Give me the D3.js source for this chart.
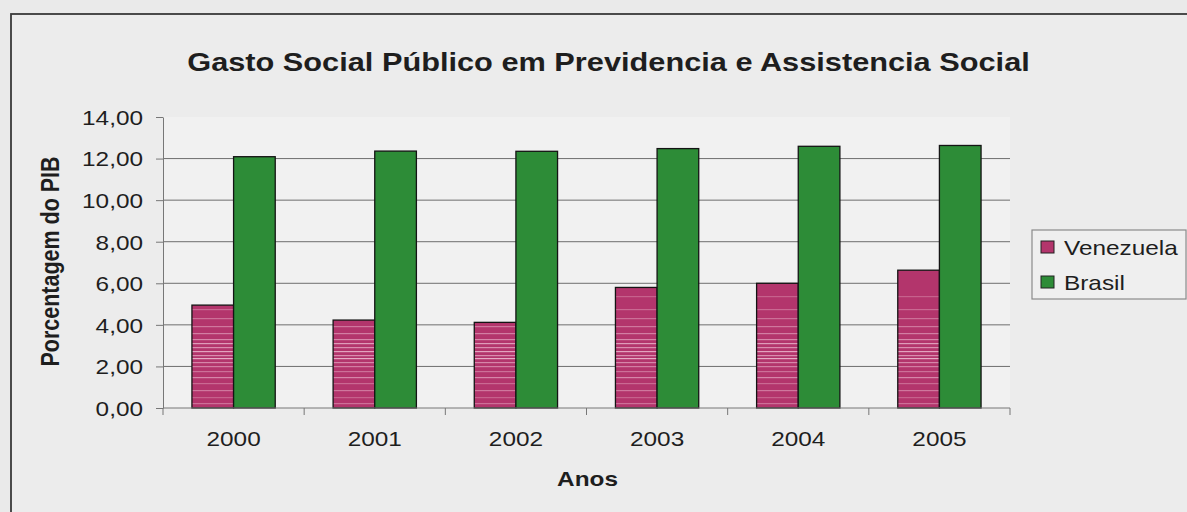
<!DOCTYPE html>
<html>
<head>
<meta charset="utf-8">
<script src="https://cdn.jsdelivr.net/npm/d3@7"></script>
<style>
  html, body { margin: 0; padding: 0; background: #eaeaea; }
  svg { display: block; }
  text { font-family: Arial, "Liberation Sans", sans-serif; fill: #1e1e1e; }
</style>
</head>
<body>
<svg id="chart" width="1187" height="512"></svg>
<script>
// Data
const years = ["2000", "2001", "2002", "2003", "2004", "2005"];
const seriesNames = ["Venezuela", "Brasil"];
const venezuela = [4.95, 4.23, 4.12, 5.80, 6.00, 6.63];
const brasil = [12.09, 12.36, 12.35, 12.48, 12.59, 12.63];
const yTicks = [0, 2, 4, 6, 8, 10, 12, 14];

const title = "Gasto Social Público em Previdencia e Assistencia Social";
const xTitle = "Anos";
const yTitle = "Porcentagem do PIB";

const rows = years.map((y, i) => ({ year: y, Venezuela: venezuela[i], Brasil: brasil[i] }));

// Layout
const W = 1187, H = 512;
const plot = { left: 163, right: 1010, top: 117, bottom: 408 };
const sx = 1.16; // horizontal text stretch
const fmt = v => v.toFixed(2).replace(".", ",");

const svg = d3.select("#chart");

// Streaked fill for the Venezuela bars: light horizontal streaks, denser toward the base
const defs = svg.append("defs");
const pat = defs.append("pattern")
  .attr("id", "venStripe")
  .attr("patternUnits", "userSpaceOnUse")
  .attr("width", 8).attr("height", 420);
pat.append("rect").attr("width", 8).attr("height", 420).attr("fill", "#b3356c");
[[296, 0.3], [309, 0.35], [318, 0.4], [326, 0.45], [333, 0.5], [339, 0.55], [343, 0.7],
 [347, 0.6], [351, 0.75], [355, 0.6], [358, 0.8], [362, 0.55], [366, 0.5], [371, 0.4],
 [377, 0.55], [383, 0.35], [390, 0.45], [397, 0.3], [403, 0.4]]
  .forEach(([yy, o]) => pat.append("rect").attr("x", 0).attr("y", yy).attr("width", 8).attr("height", 1.2)
    .attr("fill", "#f2c8da").attr("opacity", o));

const colors = { Venezuela: "url(#venStripe)", Brasil: "#2d8c37" };
const swatch = { Venezuela: "#b3356c", Brasil: "#2d8c37" };

// Outer frame
svg.append("rect").attr("x", 0).attr("y", 0).attr("width", W).attr("height", H).attr("fill", "#eaeaea");
svg.append("rect").attr("x", 11).attr("y", 14).attr("width", W + 20).attr("height", H + 20)
  .attr("fill", "#ececec").attr("stroke", "#3a3a3a").attr("stroke-width", 1.8);

// Plot background
svg.append("rect").attr("x", plot.left).attr("y", plot.top)
  .attr("width", plot.right - plot.left).attr("height", plot.bottom - plot.top)
  .attr("fill", "#f1f1f1");

// Scales
const x0 = d3.scaleBand().domain(years).range([plot.left, plot.right]).paddingInner(0).paddingOuter(0);
const x1 = d3.scaleBand().domain(seriesNames)
  .range([x0.bandwidth() * 0.205, x0.bandwidth() * 0.795]).padding(0);
const y = d3.scaleLinear().domain([0, 14]).range([plot.bottom, plot.top]);

// Gridlines
svg.append("g").selectAll("line")
  .data(yTicks.filter(t => t > 0 && t < 14))
  .join("line")
  .attr("x1", plot.left).attr("x2", plot.right)
  .attr("y1", d => y(d)).attr("y2", d => y(d))
  .attr("stroke", "#6e6e6e").attr("stroke-width", 1);

// Bars
const groups = svg.append("g").selectAll("g")
  .data(rows).join("g")
  .attr("transform", d => `translate(${x0(d.year)},0)`);
groups.selectAll("rect")
  .data(d => seriesNames.map(k => ({ key: k, value: d[k] })))
  .join("rect")
  .attr("x", d => x1(d.key))
  .attr("y", d => y(d.value))
  .attr("width", x1.bandwidth())
  .attr("height", d => y(0) - y(d.value))
  .attr("fill", d => colors[d.key])
  .attr("stroke", "#141414").attr("stroke-width", 1.3);

// Y axis
const yAxis = svg.append("g").attr("transform", `translate(${plot.left},0)`)
  .call(d3.axisLeft(y).tickValues(yTicks).tickSize(7).tickSizeOuter(0).tickFormat(fmt));
yAxis.select(".domain").attr("stroke", "#777");
yAxis.selectAll(".tick line").attr("stroke", "#777");
yAxis.selectAll(".tick text")
  .attr("x", 0).attr("dy", "0.35em")
  .attr("transform", `translate(-20,0) scale(${sx},1)`)
  .style("font-size", "21px").style("font-family", "Arial, 'Liberation Sans', sans-serif")
  .attr("fill", "#222").attr("text-anchor", "end");

// X axis
const xAxis = svg.append("g").attr("transform", `translate(0,${plot.bottom})`);
xAxis.append("line").attr("x1", plot.left).attr("x2", plot.right).attr("y1", 0).attr("y2", 0)
  .attr("stroke", "#777");
const bounds = years.map(d => x0(d)).concat([plot.right]);
xAxis.selectAll("line.tk").data(bounds).join("line").attr("class", "tk")
  .attr("x1", d => d).attr("x2", d => d).attr("y1", 0).attr("y2", 7).attr("stroke", "#777");
xAxis.selectAll("text").data(years).join("text")
  .attr("transform", d => `translate(${x0(d) + x0.bandwidth() / 2},38) scale(${sx},1)`)
  .attr("text-anchor", "middle").style("font-size", "21px").text(d => d);

// Titles
svg.append("text")
  .attr("transform", `translate(${(plot.left + plot.right) / 2 + 22},71) scale(${sx},1)`)
  .attr("text-anchor", "middle").style("font-size", "26.5px").style("font-weight", "bold")
  .text(title);
svg.append("text")
  .attr("transform", `translate(${(plot.left + plot.right) / 2 + 1},486) scale(${sx},1)`)
  .attr("text-anchor", "middle").style("font-size", "21px").style("font-weight", "bold")
  .text(xTitle);
svg.append("text")
  .attr("transform", `translate(59,${(plot.top + plot.bottom) / 2 - 1}) scale(${sx},1) rotate(-90)`)
  .attr("text-anchor", "middle").style("font-size", "21.5px").style("font-weight", "bold")
  .text(yTitle);

// Legend
const legend = svg.append("g");
legend.append("rect").attr("x", 1032).attr("y", 230).attr("width", 154).attr("height", 69)
  .attr("fill", "#efefef").attr("stroke", "#8a8a8a").attr("stroke-width", 1.2);
const li = legend.selectAll("g.item").data(seriesNames).join("g").attr("class", "item")
  .attr("transform", (d, i) => `translate(1041,${247 + i * 35})`);
li.append("rect").attr("x", 0).attr("y", -6).attr("width", 13).attr("height", 12)
  .attr("fill", d => swatch[d]).attr("stroke", "#222").attr("stroke-width", 1);
li.append("text")
  .attr("transform", `translate(23,7.5) scale(${sx},1)`)
  .style("font-size", "21px").text(d => d);
</script>
</body>
</html>
